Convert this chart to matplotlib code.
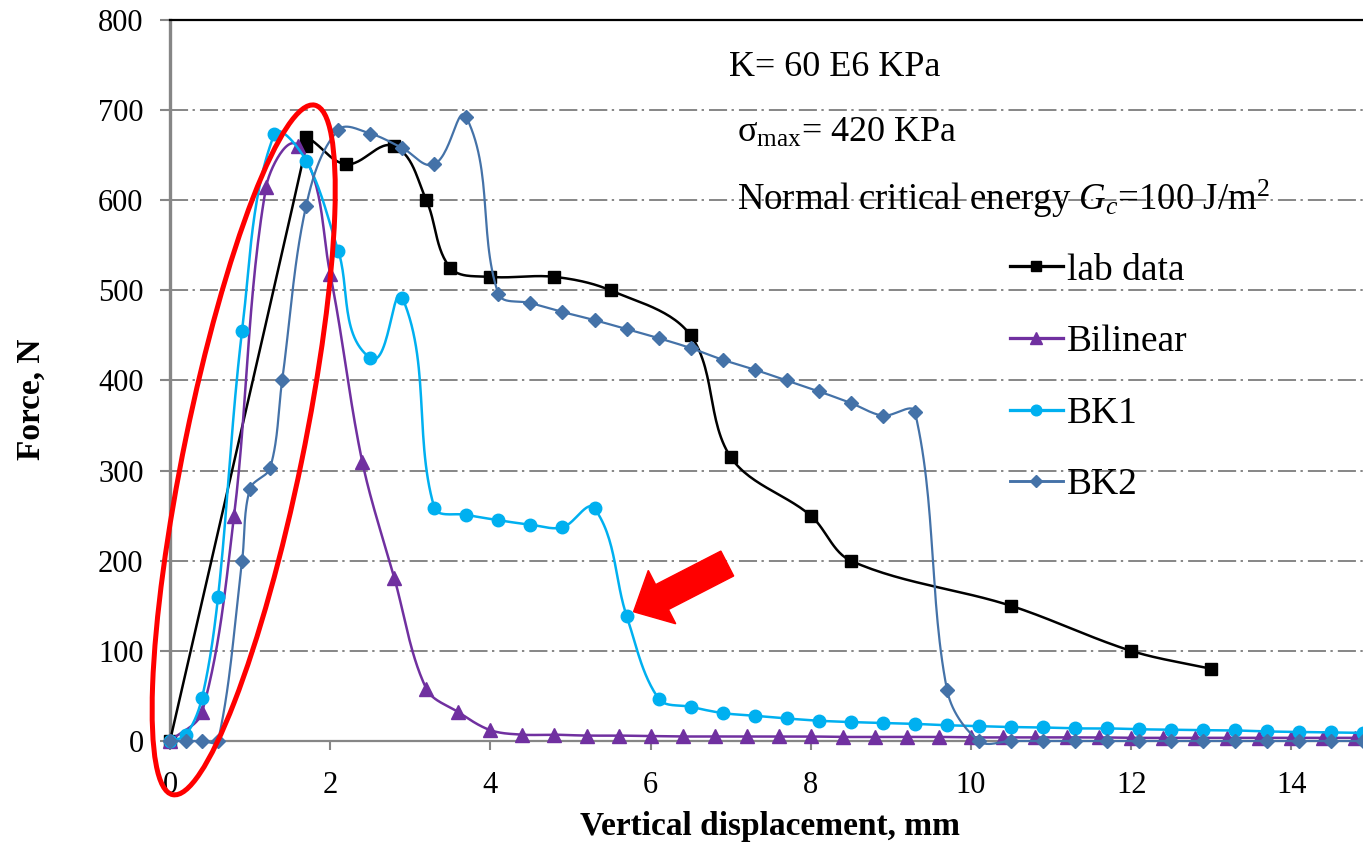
import numpy as np
import matplotlib
matplotlib.use("Agg")
import matplotlib.pyplot as plt
from matplotlib.patches import Ellipse, FancyArrow
from matplotlib.transforms import IdentityTransform

# ---------------- data ----------------
lab_x = [0, 1.7, 1.7, 2.2, 2.8, 3.2, 3.5, 4.0, 4.8, 5.5, 6.5, 7.0, 8.0, 8.5, 10.5, 12.0, 13.0]
lab_F = [0, 660, 670, 640, 660, 600, 525, 515, 515, 500, 450, 315, 250, 200, 150, 100, 80]

bil_x = [0, 0.4, 0.8, 1.2, 1.6, 2.0, 2.4, 2.8, 3.2, 3.6, 4.0, 4.4, 4.8, 5.2, 5.6, 6.0,
         6.4, 6.8, 7.2, 7.6, 8.0, 8.4, 8.8, 9.2, 9.6, 10.0, 10.4, 10.8, 11.2, 11.6,
         12.0, 12.4, 12.8, 13.2, 13.6, 14.0, 14.4, 14.8]
bil_F = [0, 32, 250, 615, 660, 518, 310, 181, 58, 32, 12, 7, 7, 6, 6, 5.5,
         5, 5, 5, 5, 5, 4.5, 4.5, 4.5, 4.5, 4, 4, 4, 4, 4,
         3.5, 3.5, 3.5, 3.5, 3.5, 3.5, 3.5, 3.5]

bk1_x = [0, 0.2, 0.4, 0.6, 0.9, 1.3, 1.7, 2.1, 2.5, 2.9, 3.3, 3.7, 4.1, 4.5, 4.9, 5.3,
         5.7, 6.1, 6.5, 6.9, 7.3, 7.7, 8.1, 8.5, 8.9, 9.3, 9.7, 10.1, 10.5, 10.9,
         11.3, 11.7, 12.1, 12.5, 12.9, 13.3, 13.7, 14.1, 14.5, 14.9]
bk1_F = [0, 7, 48, 160, 455, 673, 644, 544, 425, 492, 259, 251, 245, 240, 237, 258,
         139, 47, 38, 31, 28, 25, 22.5, 21, 20, 19, 17.5, 16.5, 15.5, 15,
         14, 14, 13, 12.6, 12, 11.7, 10.6, 10, 9.6, 9]

bk2_x = [0, 0.2, 0.4, 0.6, 0.9, 1.0, 1.25, 1.4, 1.7, 2.1, 2.5, 2.9, 3.3, 3.7, 4.1,
         4.5, 4.9, 5.3, 5.7, 6.1, 6.5, 6.9, 7.3, 7.7, 8.1, 8.5, 8.9, 9.3, 9.7,
         10.1, 10.5, 10.9, 11.3, 11.7, 12.1, 12.5, 12.9, 13.3, 13.7, 14.1, 14.5, 14.9]
bk2_F = [0, 0, 0, 0, 200, 280, 303, 400, 594, 678, 674, 658, 640, 692, 496,
         486, 476, 467, 457, 447, 436, 423, 412, 400, 388, 375, 361, 365, 57,
         0, 0, 0, 0, 0, 0, 0, 0, 0, 0, 0, 0, 0]

x_ticks = [0, 2, 4, 6, 8, 10, 12, 14]
y_ticks = [0, 100, 200, 300, 400, 500, 600, 700, 800]

# ---------------- style ----------------
plt.rcParams['font.family'] = ['Liberation Serif', 'DejaVu Serif']
plt.rcParams['mathtext.fontset'] = 'custom'
plt.rcParams['mathtext.rm'] = 'Liberation Serif'
plt.rcParams['mathtext.it'] = 'Liberation Serif:italic'
plt.rcParams['mathtext.bf'] = 'Liberation Serif:bold'

W, H = 1363, 843
fig = plt.figure(figsize=(W / 100, H / 100), dpi=100)
px_per_mm = 80.1
x0_px, y0_px, ytop_px = 170, 741, 20
xmax = 15
ax_w = xmax * px_per_mm
ax_h = y0_px - ytop_px
ax = fig.add_axes([x0_px / W, (H - y0_px) / H, ax_w / W, ax_h / H])
ax.set_xlim(0, xmax)
ax.set_ylim(0, 800)

grid_gray = '#868686'
ax.set_yticks(y_ticks)
ax.set_xticks(x_ticks)
ax.tick_params(axis='y', direction='out', length=7, width=1.5, color=grid_gray,
               labelsize=22, pad=12)
ax.tick_params(axis='x', direction='out', length=6.5, width=1.5, color=grid_gray,
               labelsize=22, pad=15)
ax.spines['right'].set_visible(False)
ax.spines['top'].set_color('black')
ax.spines['top'].set_linewidth(1.6)
ax.spines['left'].set_color(grid_gray)
ax.spines['left'].set_linewidth(2.4)
ax.spines['bottom'].set_color(grid_gray)
ax.spines['bottom'].set_linewidth(1.6)
ax.yaxis.grid(True, color=grid_gray, linewidth=1.4, linestyle=(0, (9.3, 2.3, 1.2, 2.6)))
ax.set_axisbelow(True)

ax.set_xlabel('Vertical displacement, mm', fontsize=24, fontweight='bold')
ax.set_ylabel('Force, N', fontsize=24, fontweight='bold')
ax.xaxis.set_label_coords((770 - x0_px) / ax_w, -(811 - y0_px) / ax_h)
ax.yaxis.set_label_coords(-(x0_px - 47) / ax_w, (y0_px - 399) / ax_h)


def smooth(xs, ys, n=30):
    """Excel-like smoothed line: Bezier segments with tangents scaled by segment length."""
    P = ax.transData.transform(np.column_stack([xs, ys]).astype(float))
    out = []
    m = len(P)
    for i in range(m - 1):
        p0 = P[i - 1] if i > 0 else P[i]
        p1, p2 = P[i], P[i + 1]
        p3 = P[i + 2] if i + 2 < m else P[i + 1]
        seg = np.hypot(*(p2 - p1))
        d1 = p2 - p0
        d2 = p3 - p1
        n1 = np.hypot(*d1)
        n2 = np.hypot(*d2)
        c1 = p1 + (d1 / n1 * seg / 3.0 if n1 > 0 else 0)
        c2 = p2 - (d2 / n2 * seg / 3.0 if n2 > 0 else 0)
        t = np.linspace(0, 1, n)[:, None]
        curve = (1 - t) ** 3 * p1 + 3 * (1 - t) ** 2 * t * c1 + 3 * (1 - t) * t ** 2 * c2 + t ** 3 * p2
        out.append(curve if i == 0 else curve[1:])
    Q = np.vstack(out)
    D = ax.transData.inverted().transform(Q)
    return D[:, 0], D[:, 1]


series = [
    ('lab data', lab_x, lab_F, 'black', 's', 8, 1.8),
    ('Bilinear', bil_x, bil_F, '#7030A0', '^', 10.5, 1.8),
    ('BK1', bk1_x, bk1_F, '#00B0F0', 'o', 9, 1.8),
    ('BK2', bk2_x, bk2_F, '#4472A8', 'D', 7, 1.6),
]
handles = []
for i, (name, xs, ys, col, mk, ms, lw) in enumerate(series):
    sx, sy = smooth(xs, ys)
    ax.plot(sx, sy, color=col, lw=lw, zorder=3 + i, clip_on=False)
    ax.plot(xs, ys, linestyle='none', marker=mk, ms=ms, color=col, zorder=3 + i, clip_on=False)
    h, = ax.plot([], [], color=col, lw=lw * 1.3, marker=mk, ms=ms * 0.85, label=name)
    handles.append(h)

leg = fig.legend(handles=handles, loc='upper left', frameon=False, fontsize=27,
                 handlelength=1.41, handletextpad=0.12, labelspacing=0.99,
                 bbox_to_anchor=(1010 / W, (H - 253) / H), borderaxespad=0, borderpad=0)

# annotations
fig.text(729 / W, (H - 68) / H, 'K= 60 E6 KPa', fontsize=26, va='center', ha='left')
fig.text(737 / W, (H - 133) / H, 'σ$_{\\mathrm{max}}$= 420 KPa', fontsize=26, va='center', ha='left')
fig.text(737 / W, (H - 199) / H, 'Normal critical energy $G_c$=100 J/m$^2$', fontsize=26.5,
         va='center', ha='left')

# red ellipse highlighting the initial part
cx, cy = ax.transData.transform((0.92, 323))
ell = Ellipse((cx, cy), width=118, height=704, angle=-11.64, fill=False, edgecolor='red',
              linewidth=3.6, transform=IdentityTransform(), clip_on=False, zorder=10)
fig.add_artist(ell)

# red arrow pointing at BK1 point
tx, ty = ax.transData.transform((5.7, 139))
tipx, tipy = tx + 7, ty + 4
dx, dy = -93.7, -48.2
arr = FancyArrow(tipx - dx, tipy - dy, dx, dy, width=28, head_width=60, head_length=32,
                 length_includes_head=True, color='red', transform=IdentityTransform(),
                 zorder=11)
fig.add_artist(arr)

fig.savefig('out.png', dpi=100)
